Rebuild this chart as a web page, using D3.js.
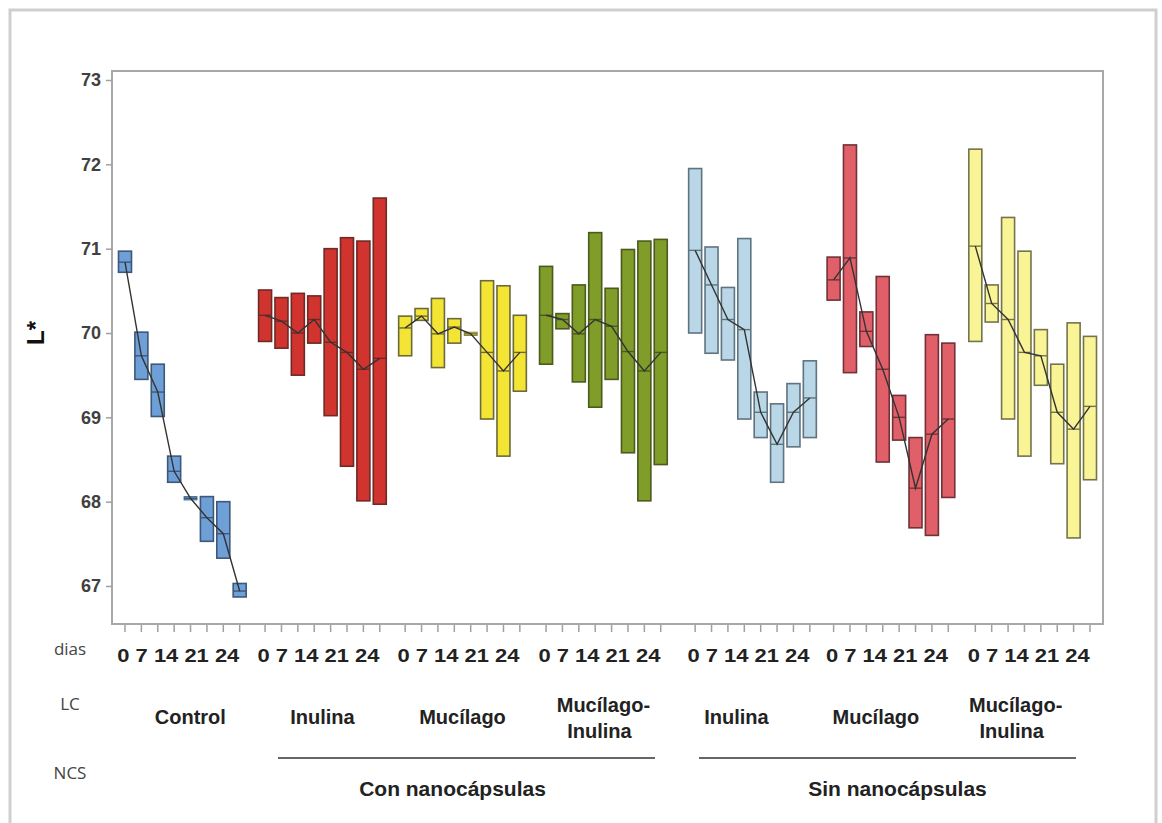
<!DOCTYPE html>
<html>
<head>
<meta charset="utf-8">
<script src="https://cdn.jsdelivr.net/npm/d3@7"></script>
<style>
  body { margin: 0; background: #fff; }
  svg { display: block; }
</style>
</head>
<body>
<div id="chart"></div>
<script>
var width = 1162;
var height = 823;

// data: [low, middle, high] for each day slot
var lcLabels = ["Control", "Inulina", "Mucílago", "Mucílago-Inulina", "Inulina", "Mucílago", "Mucílago-Inulina"];
var ncsLabels = ["Con nanocápsulas", "Sin nanocápsulas"];
var dayLabel = "0 7 14 21 24";
var yTicks = [67, 68, 69, 70, 71, 72, 73];

var control = [[70.72, 70.84, 70.97], [69.45, 69.73, 70.01], [69.01, 69.30, 69.63], [68.23, 68.36, 68.54],
  [68.02, 68.04, 68.06], [67.53, 67.81, 68.06], [67.33, 67.62, 68.00], [66.87, 66.94, 67.03]];
var conInulina = [[69.90, 70.21, 70.51], [69.82, 70.14, 70.42], [69.50, 70.00, 70.47], [69.88, 70.16, 70.44],
  [69.02, 69.89, 71.00], [68.42, 69.77, 71.13], [68.01, 69.57, 71.09], [67.97, 69.70, 71.60]];
var conMucilago = [[69.73, 70.06, 70.20], [70.15, 70.20, 70.29], [69.59, 69.99, 70.41], [69.88, 70.07, 70.17],
  [69.97, 69.99, 70.01], [68.98, 69.77, 70.62], [68.54, 69.55, 70.56], [69.31, 69.77, 70.21]];
var conMucInulina = [[69.63, 70.21, 70.79], [70.05, 70.16, 70.23], [69.42, 69.99, 70.57], [69.12, 70.16, 71.19],
  [69.45, 70.08, 70.53], [68.58, 69.78, 70.99], [68.01, 69.55, 71.09], [68.44, 69.77, 71.11]];
var sinInulina = [[70.00, 70.98, 71.95], [69.76, 70.57, 71.02], [69.68, 70.16, 70.54], [68.98, 70.04, 71.12],
  [68.76, 69.06, 69.30], [68.23, 68.68, 69.16], [68.65, 69.06, 69.40], [68.76, 69.23, 69.67]];
var sinMucilago = [[70.39, 70.63, 70.90], [69.53, 70.89, 72.23], [69.84, 70.02, 70.25], [68.47, 69.57, 70.67],
  [68.73, 69.00, 69.26], [67.69, 68.16, 68.76], [67.60, 68.80, 69.98], [68.05, 68.98, 69.88]];
var sinMucInulina = [[69.90, 71.03, 72.18], [70.13, 70.35, 70.57], [68.98, 70.16, 71.37], [68.54, 69.77, 70.97],
  [69.38, 69.73, 70.04], [68.45, 69.06, 69.63], [67.57, 68.86, 70.12], [68.26, 69.13, 69.96]];

var groups = [control, conInulina, conMucilago, conMucInulina, sinInulina, sinMucilago, sinMucInulina];

var fills = ["#6f9fd7", "#d1332e", "#f4e534", "#809c29", "#b9d7e6", "#e05f69", "#f9f596"];
var strokes = ["#3d5878", "#6e2a26", "#6b6a3a", "#4b5a1e", "#5f7480", "#703238", "#74744a"];

// spacing between groups, in slot units
var gaps = [1.55, 1.55, 1.6, 2.1, 1.45, 1.65];
var offsets = [0];
for (var g = 1; g < groups.length; g++) {
  offsets.push(offsets[g - 1] + 7 + gaps[g - 1]);
}
var lastSlot = offsets[offsets.length - 1] + 7;

var plot = { left: 112, top: 71, right: 1103, bottom: 624 };

var x = d3.scaleLinear().domain([0, lastSlot]).range([125, 1090]);
var y = d3.scaleLinear().domain([67, 73]).range([586, 80]);
var boxW = 13;

var svg = d3.select("#chart").append("svg")
  .attr("width", width)
  .attr("height", height);

// outer frame
svg.append("rect")
  .attr("x", 10).attr("y", 10)
  .attr("width", 1146).attr("height", 830)
  .attr("fill", "none")
  .attr("stroke", "#cfcfcf")
  .attr("stroke-width", 3);

// plot frame
svg.append("rect")
  .attr("x", plot.left).attr("y", plot.top)
  .attr("width", plot.right - plot.left).attr("height", plot.bottom - plot.top)
  .attr("fill", "none")
  .attr("stroke", "#a8a8a8")
  .attr("stroke-width", 2);

// y axis
var yAxis = d3.axisLeft(y).tickValues(yTicks).tickFormat(d3.format("d")).tickSize(6).tickPadding(5);
var yG = svg.append("g")
  .attr("transform", "translate(" + plot.left + ",0)")
  .call(yAxis);
yG.select(".domain").remove();
yG.selectAll(".tick line").attr("stroke", "#a0a0a0").attr("stroke-width", 1.5);
yG.selectAll(".tick text")
  .attr("fill", "#404040")
  .style("font-family", "'Liberation Sans', Arial, sans-serif")
  .style("font-size", "18px")
  .style("font-weight", "bold");

svg.append("text")
  .attr("transform", "translate(44," + y(70) + ") rotate(-90)")
  .attr("text-anchor", "middle")
  .style("font-family", "'Liberation Sans', Arial, sans-serif")
  .style("font-size", "24px")
  .style("font-weight", "bold")
  .attr("fill", "#111")
  .text("L*");

// bottom ticks, one per slot
var slots = [];
groups.forEach(function(grp, gi) {
  grp.forEach(function(d, di) {
    slots.push({ g: gi, pos: offsets[gi] + di, lo: d[0], mid: d[1], hi: d[2] });
  });
});

svg.append("g").selectAll("line")
  .data(slots)
  .enter().append("line")
  .attr("x1", function(d) { return x(d.pos); })
  .attr("x2", function(d) { return x(d.pos); })
  .attr("y1", plot.bottom + 1)
  .attr("y2", plot.bottom + 8)
  .attr("stroke", "#a0a0a0")
  .attr("stroke-width", 1.5);

// boxes
var boxG = svg.append("g");
boxG.selectAll("rect")
  .data(slots)
  .enter().append("rect")
  .attr("x", function(d) { return x(d.pos) - boxW / 2; })
  .attr("y", function(d) { return y(d.hi); })
  .attr("width", boxW)
  .attr("height", function(d) { return Math.max(1, y(d.lo) - y(d.hi)); })
  .attr("fill", function(d) { return fills[d.g]; })
  .attr("stroke", function(d) { return strokes[d.g]; })
  .attr("stroke-width", function(d) { return y(d.lo) - y(d.hi) < 5 ? 0.8 : 1.6; });

boxG.selectAll("line.mid")
  .data(slots)
  .enter().append("line")
  .attr("class", "mid")
  .attr("x1", function(d) { return x(d.pos) - boxW / 2; })
  .attr("x2", function(d) { return x(d.pos) + boxW / 2; })
  .attr("y1", function(d) { return y(d.mid); })
  .attr("y2", function(d) { return y(d.mid); })
  .attr("stroke", function(d) { return strokes[d.g]; })
  .attr("stroke-width", 1.4);

// connect line through the middles
var line = d3.line()
  .x(function(d) { return x(d.pos); })
  .y(function(d) { return y(d.mid); });

groups.forEach(function(grp, gi) {
  svg.append("path")
    .datum(slots.filter(function(s) { return s.g === gi; }))
    .attr("d", line)
    .attr("fill", "none")
    .attr("stroke", "#333")
    .attr("stroke-width", 1.4);
});

// row labels
var rowFont = "'Open Sans', 'DejaVu Sans', sans-serif";
[["dias", 648], ["LC", 703], ["NCS", 772]].forEach(function(r) {
  svg.append("text")
    .attr("x", 70).attr("y", r[1])
    .attr("text-anchor", "middle")
    .attr("dominant-baseline", "central")
    .style("font-family", rowFont)
    .style("font-size", "17px")
    .attr("fill", "#444")
    .text(r[0]);
});

var labFont = "'Liberation Sans Narrow', 'Arial Narrow', 'Liberation Sans', Arial, sans-serif";

// day labels under every group
svg.append("g").selectAll("text")
  .data(groups)
  .enter().append("text")
  .attr("x", function(d, i) { return x(offsets[i] + 3.5) - 4; })
  .attr("y", 655)
  .attr("text-anchor", "middle")
  .attr("dominant-baseline", "central")
  .attr("textLength", 122)
  .attr("lengthAdjust", "spacingAndGlyphs")
  .style("font-family", labFont)
  .style("font-size", "19px")
  .style("font-weight", "bold")
  .attr("fill", "#222")
  .text(dayLabel);

// LC labels
var labelShift = [8, 0, 0, 0, -16, -15, -17];
lcLabels.forEach(function(lab, i) {
  var cx = x(offsets[i] + 3.5) + labelShift[i];
  var parts = lab.indexOf("-") > 0 ? [lab.split("-")[0] + "-", lab.split("-")[1]] : [lab];
  var t = svg.append("text")
    .attr("x", cx)
    .attr("text-anchor", "middle")
    .style("font-family", labFont)
    .style("font-size", "20px")
    .style("font-weight", "bold")
    .attr("fill", "#222");
  if (parts.length === 1) {
    t.attr("y", 717).attr("dominant-baseline", "central").text(parts[0]);
  } else {
    t.append("tspan").attr("x", cx).attr("y", 705).attr("dominant-baseline", "central").text(parts[0]);
    t.append("tspan").attr("x", cx - 4).attr("y", 731).attr("dominant-baseline", "central").text(parts[1]);
  }
});

// NCS brackets
var ncsSpans = [[278, 655], [699, 1076]];
ncsLabels.forEach(function(lab, i) {
  svg.append("line")
    .attr("x1", ncsSpans[i][0]).attr("x2", ncsSpans[i][1])
    .attr("y1", 758).attr("y2", 758)
    .attr("stroke", "#333")
    .attr("stroke-width", 1.6);
  svg.append("text")
    .attr("x", (ncsSpans[i][0] + ncsSpans[i][1]) / 2 + (i === 0 ? -14 : 10))
    .attr("y", 788)
    .attr("text-anchor", "middle")
    .attr("dominant-baseline", "central")
    .style("font-family", labFont)
    .style("font-size", "21px")
    .style("font-weight", "bold")
    .attr("fill", "#222")
    .text(lab);
});
</script>
</body>
</html>
